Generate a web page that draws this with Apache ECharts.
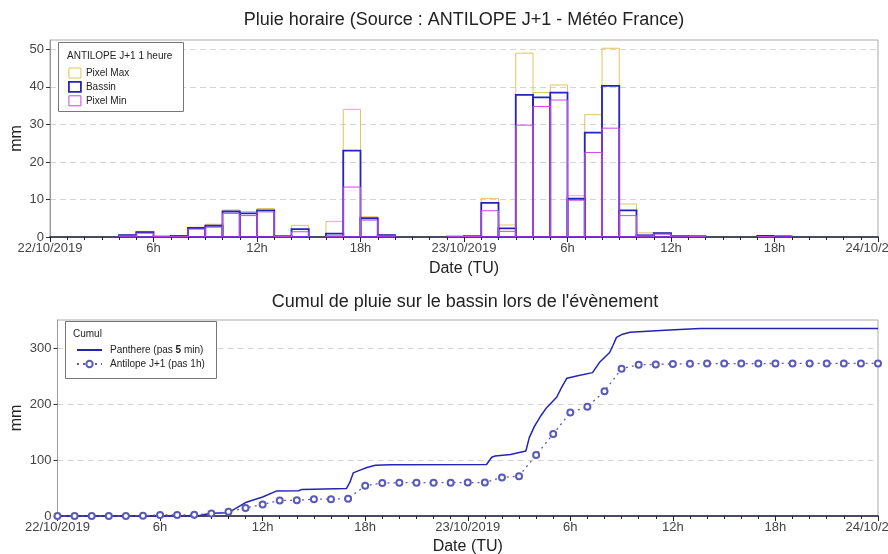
<!DOCTYPE html>
<html>
<head>
<meta charset="utf-8">
<script src="https://cdn.jsdelivr.net/npm/echarts@6/dist/echarts.min.js"></script>
<style>
html,body{margin:0;padding:0;background:#fff;}
#c{width:888px;height:554px;}
</style>
</head>
<body>
<div id="c"></div>
<script>
// ---- data ----
var HOURS = [0,1,2,3,4,5,6,7,8,9,10,11,12,13,14,15,16,17,18,19,20,21,22,23,
             24,25,26,27,28,29,30,31,32,33,34,35,36,37,38,39,40,41,42,43,44,45,46,47];
var PIXEL_MAX = [0,0,0,0,0.6,1.5,0.2,0.4,2.6,3.4,7.2,6.8,7.6,0.3,3.1,0,4.1,34.0,5.4,0.6,0,0,0,0.1,
                 0.3,10.3,3.2,49.0,38.5,40.5,11.0,32.6,50.3,8.8,1.1,1.1,0.4,0.3,0,0,0,0.3,0.3,0,0,0,0,0];
var BASSIN    = [0,0,0,0,0.5,1.3,0.1,0.3,2.4,3.0,6.8,6.3,7.1,0.2,2.1,0,0.9,23.0,5.0,0.5,0,0,0,0.1,
                 0.2,9.1,2.3,37.9,37.2,38.5,10.2,27.8,40.3,7.1,0.45,1.0,0.3,0.2,0,0,0,0.3,0.1,0,0,0,0,0];
var PIXEL_MIN = [0,0,0,0,0.3,1.0,0.05,0.2,2.1,2.6,6.3,5.7,6.7,0.1,1.4,0,0.3,13.3,4.5,0.3,0,0,0,0.05,
                 0.1,7.0,1.5,29.8,34.8,36.5,9.8,22.5,29.0,5.7,0.3,0.8,0.3,0.2,0,0,0,0.1,0.4,0,0,0,0,0];

var CUM_HOURS = [0,1,2,3,4,5,6,7,8,9,10,11,12,13,14,15,16,17,18,19,20,21,22,23,24,
                 25,26,27,28,29,30,31,32,33,34,35,36,37,38,39,40,41,42,43,44,45,46,47,48];
var ANTILOPE_CUM = [0,0,0,0,0,0.5,1.8,1.9,2.2,4.6,7.6,14.4,20.7,27.8,28.0,30.1,30.1,31.0,54.0,59.0,59.5,59.5,59.5,59.5,59.6,
                    59.8,68.9,71.2,109.1,146.3,184.8,195.0,222.8,263.1,270.2,270.6,271.6,271.9,272.1,272.1,272.1,272.1,272.4,272.5,272.5,272.5,272.5,272.5,272.5];
var PANTHERE_CUM = [[0,0],[8.2,0],[8.6,2.5],[9,5],[10,6],[10.4,13],[11,24],[11.5,29],[12,34],[12.8,44.5],
                    [14.1,45],[14.3,47.5],[16.9,49],[17.1,60],[17.3,77],[17.7,82],[18.1,86.5],[18.6,90.5],[19.5,91.5],
                    [25.1,92],[25.4,105],[25.6,107],[26.5,110],[27.4,116],[27.6,140],[27.9,160],[28.3,180],[28.6,193],
                    [29.2,212],[29.5,230],[29.8,246],[30.5,251],[31.3,256],[31.7,274],[32.3,292],[32.5,305],[32.7,319],
                    [33.0,324],[33.5,328],[35.8,332],[37.6,335],[48,335]];

var XTICK_LABELS = ['22/10/2019','6h','12h','18h','23/10/2019','6h','12h','18h','24/10/2019'];
var YTICKS_TOP = [0,10,20,30,40,50];
var YTICKS_BOTTOM = [0,100,200,300];

var TITLE_TOP = 'Pluie horaire (Source : ANTILOPE J+1 - Météo France)';
var TITLE_BOTTOM = "Cumul de pluie sur le bassin lors de l'évènement";

// ---- styles ----
var C_MAX = '#e3c35e', C_BAS = '#2323c0', C_MIN = '#c848e0';
var C_PAN = '#2424b4', C_ANT = '#5a5ab8';
var FONT = 'Liberation Sans, Arial, sans-serif';

function barData(vals){ return HOURS.map(function(h,i){ return [h, vals[i]]; }); }
function barRender(color, lw){
  return function(params, api){
    var x0 = api.value(0), v = api.value(1);
    if (!(v > 0)) return null;
    var p0 = api.coord([x0, v]);
    var p1 = api.coord([x0 + 1, 0]);
    return {
      type:'rect',
      shape:{x:p0[0], y:p0[1], width:p1[0]-p0[0], height:p1[1]-p0[1]},
      style:{fill:'none', stroke:color, lineWidth:lw}
    };
  };
}
function xLabel(v){ var k = v/6; return (Math.abs(k-Math.round(k))<1e-6) ? (XTICK_LABELS[Math.round(k)]||'') : ''; }

function xAxisCfg(gi){
  return {
    type:'value', gridIndex:gi, min:0, max:48, interval:6,
    name:'Date (TU)', nameLocation:'middle', nameGap: gi===0 ? 24 : 23,
    nameTextStyle:{fontFamily:FONT, fontSize:16, color:'#222'},
    axisLine:{show:true, onZero:false, lineStyle:{color:'#1d1d3a', width:1.5}},
    axisTick:{show:true, length:5, lineStyle:{color:'#222'}},
    minorTick:{show:true, splitNumber:6, length:3, lineStyle:{color:'#222'}},
    axisLabel:{formatter:xLabel, fontFamily:FONT, fontSize:13, color:'#444', margin:5, hideOverlap:false,
               showMinLabel:true, showMaxLabel:true},
    splitLine:{show:false}
  };
}
function yAxisCfg(gi, max, interval, gap, ticks){
  return {
    type:'value', gridIndex:gi, min:0, max:max, interval:interval,
    name:'mm', nameLocation:'middle', nameGap:gap, nameRotate:90, nameMoveOverlap:false,
    nameTextStyle:{fontFamily:FONT, fontSize:16, color:'#222'},
    axisLine:{show:true, lineStyle:{color:'#999'}},
    axisTick:{show:true, length:4, lineStyle:{color:'#333'}, customValues:ticks},
    axisLabel:{fontFamily:FONT, fontSize:13, color:'#444', margin:6, customValues:ticks,
               formatter:function(v){ return String(v); }},
    splitLine:{show:true, lineStyle:{color:'#d4d4d4', type:[6,4]}}
  };
}

var chart = echarts.init(document.getElementById('c'), null, {renderer:'canvas'});
chart.setOption({
  animation:false,
  backgroundColor:'#fff',
  textStyle:{fontFamily:FONT},
  grid:[
    {left:50, top:40, width:828, height:197, show:true, borderColor:'#aaa', borderWidth:1, backgroundColor:'transparent',
     containLabel:false, outerBoundsMode:'none'},
    {left:57.5, top:320, width:820.5, height:196, show:true, borderColor:'#aaa', borderWidth:1, backgroundColor:'transparent',
     containLabel:false, outerBoundsMode:'none'}
  ],
  xAxis:[xAxisCfg(0), xAxisCfg(1)],
  yAxis:[yAxisCfg(0, 52.5, 10, 25, YTICKS_TOP), yAxisCfg(1, 350, 100, 32.5, YTICKS_BOTTOM)],
  graphic:[
    {type:'text', x:464, y:20, style:{text:TITLE_TOP, align:'center', verticalAlign:'middle', font:'18px '+FONT, fill:'#222'}, silent:true},
    {type:'text', x:465, y:302, style:{text:TITLE_BOTTOM, align:'center', verticalAlign:'middle', font:'18px '+FONT, fill:'#222'}, silent:true},
    {type:'rect', shape:{x:58.5, y:42.5, width:125, height:69}, style:{fill:'#fff', stroke:'#777', lineWidth:1}, z:10},
    {type:'text', x:67, y:56, style:{text:'ANTILOPE J+1 1 heure', verticalAlign:'middle', font:'10px '+FONT, fill:'#222'}, z:11},
    {type:'rect', shape:{x:65.5, y:321.5, width:151, height:57}, style:{fill:'#fff', stroke:'#777', lineWidth:1}, z:10},
    {type:'text', x:73, y:334.5, style:{text:'Cumul', verticalAlign:'middle', font:'10px '+FONT, fill:'#222'}, z:11}
  ],
  legend:[
    {
      orient:'vertical', left:68, top:67.5, padding:0, itemGap:2.5, itemWidth:12, itemHeight:10, z:12,
      textStyle:{fontFamily:FONT, fontSize:10, color:'#222', padding:[0,0,0,0]},
      selectedMode:false,
      data:[
        {name:'Pixel Max', icon:'rect', itemStyle:{color:'#fff', borderColor:C_MAX, borderWidth:1}},
        {name:'Bassin', icon:'rect', itemStyle:{color:'#fff', borderColor:C_BAS, borderWidth:1.8}},
        {name:'Pixel Min', icon:'rect', itemStyle:{color:'#fff', borderColor:C_MIN, borderWidth:1}}
      ]
    },
    {
      orient:'vertical', left:76, top:345, padding:0, itemGap:4, itemWidth:25, itemHeight:8, z:12,
      textStyle:{fontFamily:FONT, fontSize:10, color:'#222', padding:[0,0,0,3],
                 rich:{a:{fontFamily:FONT, fontSize:10, color:'#222'}, b:{fontFamily:FONT, fontSize:10, color:'#222', fontWeight:'bold'}}},
      selectedMode:false,
      formatter:function(n){ return n==='Panthere (pas 5 min)' ? '{a|Panthere (pas }{b|5}{a| min)}' : '{a|'+n+'}'; },
      data:[
        {name:'Panthere (pas 5 min)', itemStyle:{opacity:0}},
        {name:'Antilope J+1 (pas 1h)'}
      ]
    }
  ],
  series:[
    {name:'Pixel Max', type:'custom', xAxisIndex:0, yAxisIndex:0, renderItem:barRender(C_MAX, 1), data:barData(PIXEL_MAX),
     itemStyle:{color:C_MAX}, encode:{x:0, y:1}, clip:true, z:2},
    {name:'Bassin', type:'custom', xAxisIndex:0, yAxisIndex:0, renderItem:barRender(C_BAS, 1.8), data:barData(BASSIN),
     itemStyle:{color:C_BAS}, encode:{x:0, y:1}, clip:true, z:3},
    {name:'Pixel Min', type:'custom', xAxisIndex:0, yAxisIndex:0, renderItem:barRender(C_MIN, 1), data:barData(PIXEL_MIN),
     itemStyle:{color:C_MIN}, encode:{x:0, y:1}, clip:true, z:4},
    {name:'Panthere (pas 5 min)', type:'line', xAxisIndex:1, yAxisIndex:1, data:PANTHERE_CUM,
     showSymbol:false, symbol:'none', lineStyle:{color:C_PAN, width:1.5}, itemStyle:{color:C_PAN}, z:3},
    {name:'Antilope J+1 (pas 1h)', type:'line', xAxisIndex:1, yAxisIndex:1,
     data:CUM_HOURS.map(function(h,i){ return [h, ANTILOPE_CUM[i]]; }),
     symbol:'emptyCircle', symbolSize:6, showSymbol:true,
     lineStyle:{color:C_ANT, width:1.3, type:[2,4]}, itemStyle:{color:C_ANT, borderWidth:1}, z:4}
  ]
});
</script>
</body>
</html>
